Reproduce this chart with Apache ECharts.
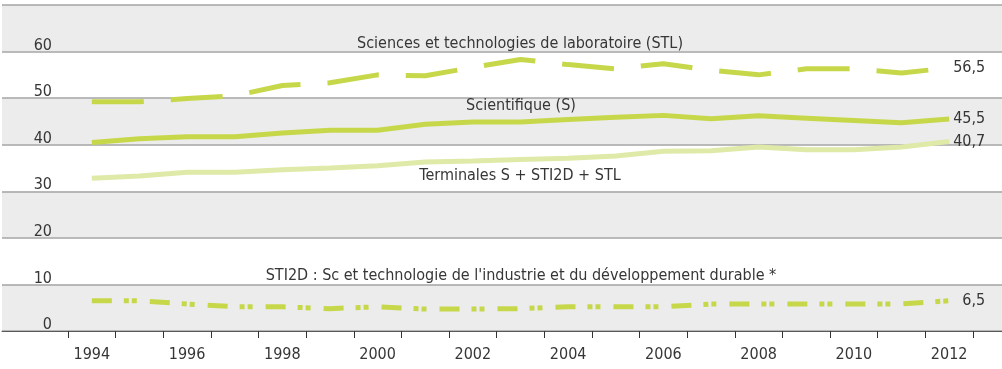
<!DOCTYPE html>
<html>
<head>
<meta charset="utf-8">
<script src="https://cdn.jsdelivr.net/npm/echarts@6/dist/echarts.min.js"></script>
<style>
  html, body { margin: 0; padding: 0; background: #ffffff; }
  #chart { width: 1002px; height: 369px; }
</style>
</head>
<body>
<div id="chart"></div>
<script>
// Bacheliers des séries scientifiques et technologiques (1994–2012)
const years = ['1994','1995','1996','1997','1998','1999','2000','2001','2002','2003',
               '2004','2005','2006','2007','2008','2009','2010','2011','2012'];
const stl = [49.2, 49.2, 49.9, 50.5, 52.7, 53.3, 55.0, 54.8, 56.6, 58.3,
             57.2, 56.3, 57.4, 56.0, 55.0, 56.3, 56.3, 55.4, 56.5];
const scientifique = [40.5, 41.3, 41.7, 41.7, 42.5, 43.1, 43.1, 44.4, 44.9, 44.9,
                      45.4, 45.9, 46.3, 45.6, 46.2, 45.7, 45.2, 44.7, 45.5];
const terminales = [32.8, 33.3, 34.1, 34.1, 34.6, 35.0, 35.5, 36.3, 36.5, 36.8,
                    37.1, 37.6, 38.6, 38.7, 39.5, 38.9, 38.9, 39.5, 40.7];
const sti2d = [6.5, 6.5, 5.8, 5.2, 5.2, 4.8, 5.2, 4.7, 4.7, 4.8,
               5.2, 5.2, 5.2, 5.8, 5.8, 5.8, 5.8, 5.8, 6.5];
const yTicks = { min: 0, max: 70, interval: 10 };
const captions = [
  'Sciences et technologies de laboratoire (STL)',
  'Scientifique (S)',
  'Terminales S + STI2D + STL',
  "STI2D : Sc et technologie de l'industrie et du développement durable *"
];

const FONT = '"DejaVu Sans Condensed", "Liberation Sans", sans-serif';
const FS = 16;
const TXT = '#363636';
const GREEN = '#c6d84a';
const LIGHT = '#dfe9a8';

const chart = echarts.init(document.getElementById('chart'), null, { renderer: 'canvas' });

function endLabel() {
  return {
    show: true,
    formatter: p => String(p.value).replace('.', ','),
    fontFamily: FONT, fontSize: FS, color: TXT,
    distance: 36, align: 'right'
  };
}

function seriesOf(name, data, color, dash) {
  return {
    name, type: 'line', data,
    xAxisIndex: 1, yAxisIndex: 1,
    symbol: 'none', smooth: false,
    lineStyle: { color, width: 5, type: dash || 'solid', cap: 'butt' },
    endLabel: endLabel(),
    animation: false, silent: true
  };
}

// caption centres (px) above each curve
const captionPos = [[520, 44], [521, 106], [520, 176], [521, 276]];

chart.setOption({
  animation: false,
  textStyle: { fontFamily: FONT },
  grid: [
    { left: 2, right: 0, top: 5, bottom: 38 },    // full-width banded background
    { left: 68, right: 29, top: 5, bottom: 38 }   // plotting area
  ],
  xAxis: [
    { gridIndex: 0, type: 'value', min: 0, max: 1, show: true,
      axisLine: { show: true, lineStyle: { color: '#5a5a5a', width: 1 } },
      axisTick: { show: false }, axisLabel: { show: false }, splitLine: { show: false } },
    { gridIndex: 1, type: 'category', data: years, boundaryGap: true,
      axisLine: { show: false },
      axisTick: { show: true, interval: 0, length: 7, lineStyle: { color: '#333', width: 1 } },
      axisLabel: { interval: 1, margin: 16, fontSize: FS, color: TXT, fontFamily: FONT },
      splitLine: { show: false } }
  ],
  yAxis: [
    { gridIndex: 0, type: 'value', min: yTicks.min, max: yTicks.max, interval: yTicks.interval,
      axisLine: { show: false }, axisTick: { show: false },
      axisLabel: { inside: true, margin: 50, align: 'right', verticalAlign: 'bottom',
                   lineHeight: 12, fontSize: FS, color: TXT, fontFamily: FONT,
                   showMaxLabel: false },
      splitLine: { show: true, lineStyle: { color: '#a4a4a4', width: 1.5 } },
      splitArea: { show: true, areaStyle: { color: ['#ececec', '#ffffff'] } } },
    { gridIndex: 1, type: 'value', min: yTicks.min, max: yTicks.max, interval: yTicks.interval,
      show: false, splitLine: { show: false } }
  ],
  graphic: captions.map((t, i) => ({
    type: 'text', x: captionPos[i][0], y: captionPos[i][1], z: 100, silent: true,
    style: { text: t, fill: TXT, fontSize: FS, fontFamily: FONT,
             align: 'center', verticalAlign: 'middle' }
  })),
  series: [
    seriesOf('Terminales S + STI2D + STL', terminales, LIGHT),
    seriesOf('Scientifique (S)', scientifique, GREEN),
    seriesOf('Sciences et technologies de laboratoire (STL)', stl, GREEN, [52, 27]),
    seriesOf('STI2D', sti2d, GREEN, [20, 12, 5, 3, 5, 13])
  ]
});
</script>
</body>
</html>
